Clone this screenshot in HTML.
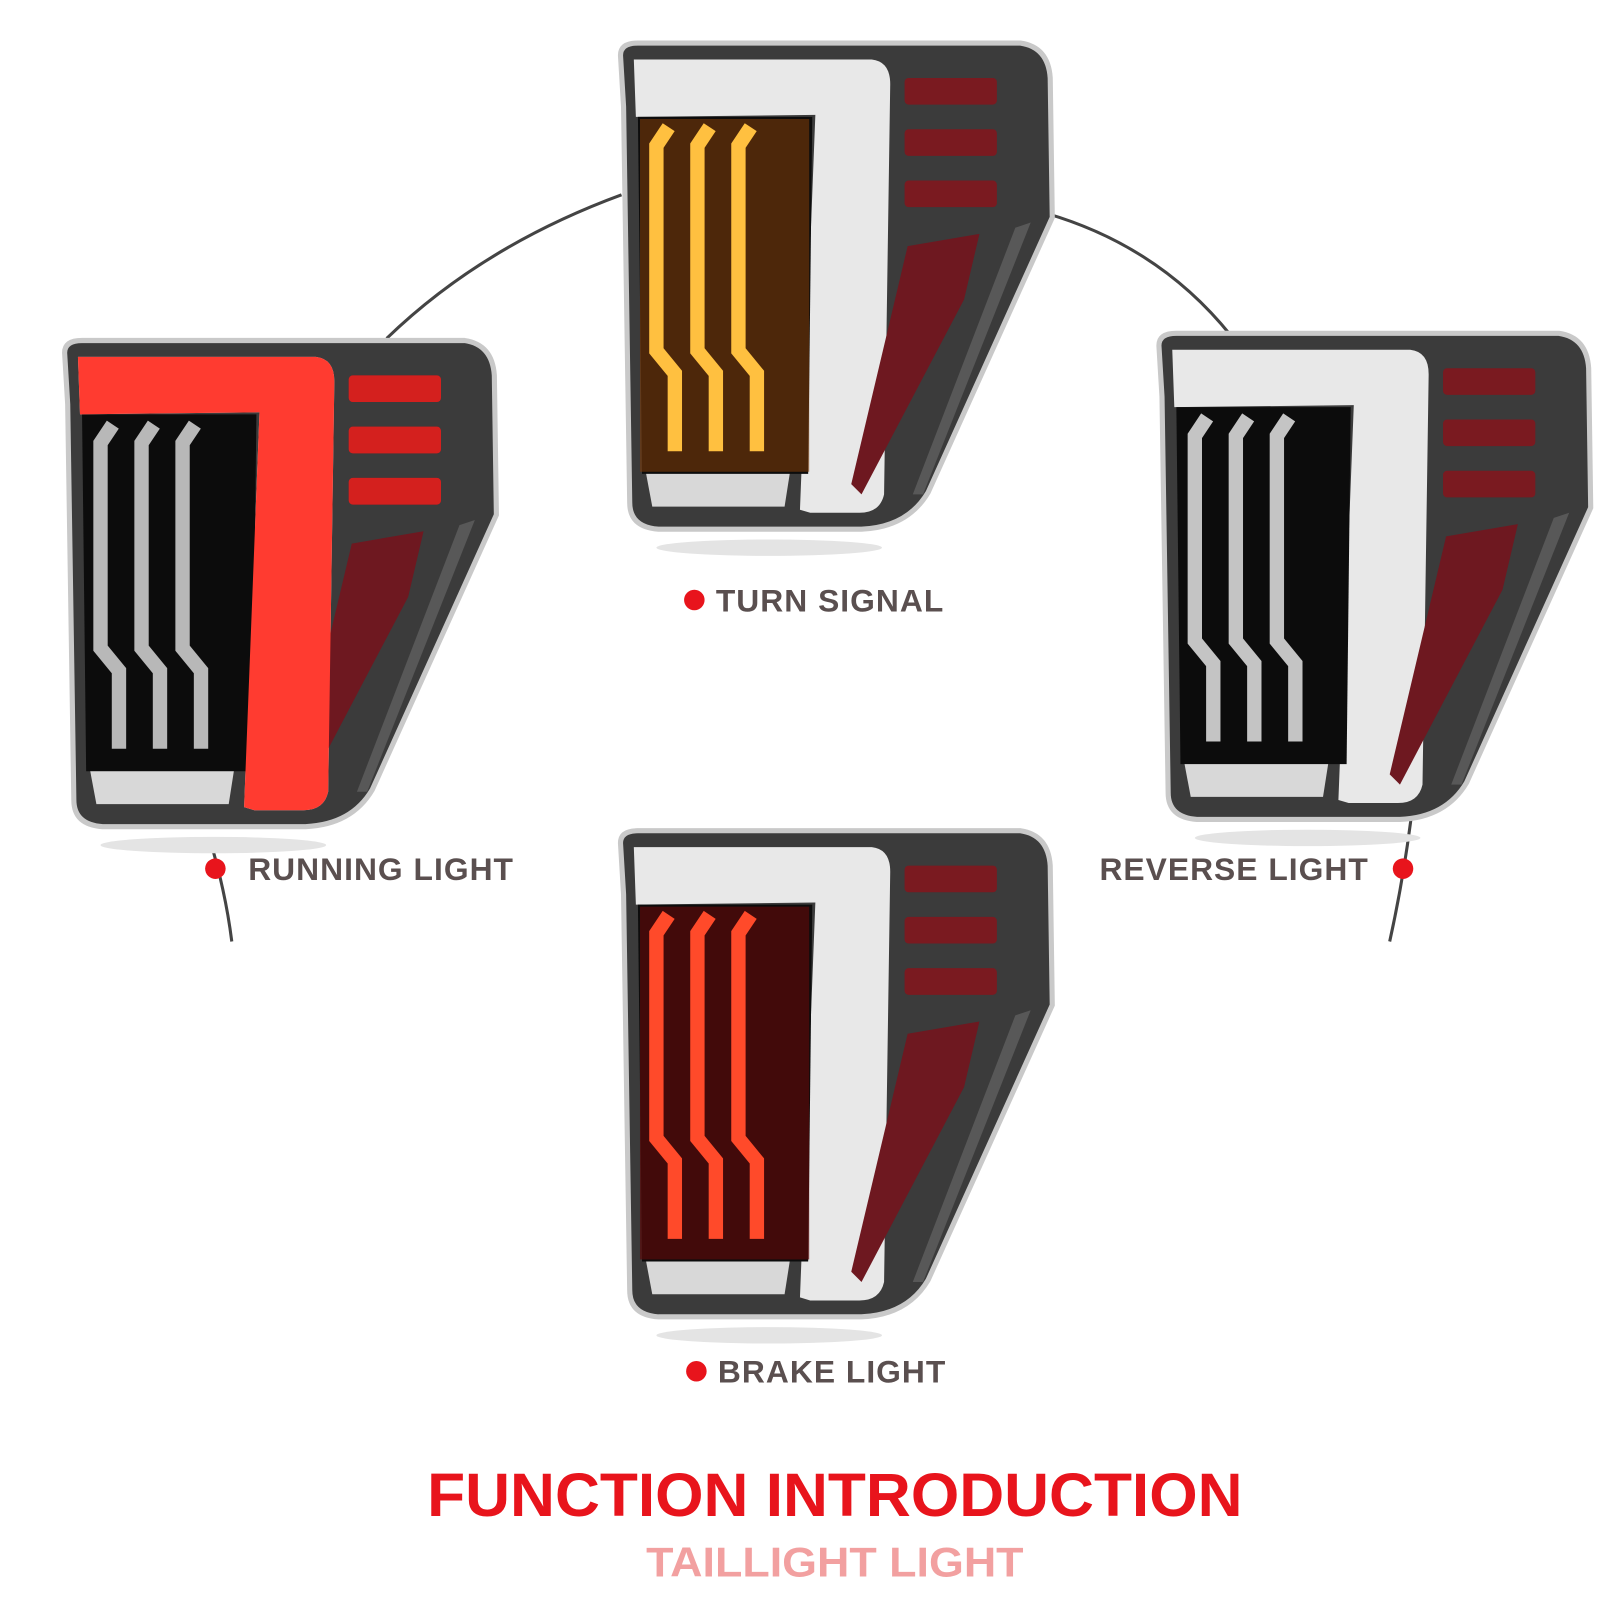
<!DOCTYPE html>
<html><head><meta charset="utf-8"><style>
html,body{margin:0;padding:0;background:#fff;width:1600px;height:1600px;overflow:hidden}
svg{position:absolute;left:0;top:0}
.lbl{font-family:"Liberation Sans",sans-serif;font-weight:bold;fill:#5a4f4f;font-size:31px;letter-spacing:1px}
</style></head><body>
<svg width="1600" height="1600" viewBox="0 0 1600 1600">
<defs>
<g id="housing">
  <ellipse cx="150" cy="492" rx="110" ry="8" fill="#e4e4e4"/>
  <path d="M5,12 Q5,0 22,0 L395,0 Q422,4 424,34 L426,170 L305,438 Q285,472 240,474 L42,474 Q14,472 14,448 L8,62 Z" fill="#3b3b3b" stroke="#c9c9c9" stroke-width="5"/>
  <path d="M18,16 L250,16 Q268,18 268,40 L262,440 Q258,458 238,458 L190,458 L180,455 L195,70 L20,72 Z" fill="#e8e8e8"/>
  <path d="M22,72 L192,72 L188,420 L26,420 Z" fill="#0c0c0c"/>
  <path d="M30,420 L170,420 L165,452 L36,452 Z" fill="#d8d8d8"/>
  <rect x="282" y="34" width="90" height="26" rx="4" fill="#7a1a20"/>
  <rect x="282" y="84" width="90" height="26" rx="4" fill="#7a1a20"/>
  <rect x="282" y="134" width="90" height="26" rx="4" fill="#7a1a20"/>
  <path d="M285,198 L355,186 L340,250 L240,440 L230,430 Z" fill="#6e1820"/>
  <path d="M390,180 L405,175 L300,440 L290,440 Z" fill="#9a9a9a" opacity="0.3"/>
</g>
<g id="bars">
  <polyline points="52,82 40,100 40,300 58,322 58,398" fill="none" stroke-width="14" stroke-linejoin="miter"/>
  <polyline points="92,82 80,100 80,300 98,322 98,398" fill="none" stroke-width="14"/>
  <polyline points="132,82 120,100 120,300 138,322 138,398" fill="none" stroke-width="14"/>
</g>
</defs>
<g transform="scale(1.0256)">
<path d="M377,330 Q470,240 606,190" fill="none" stroke="#444" stroke-width="3"/>
<path d="M1020,208 Q1130,240 1200,327" fill="none" stroke="#444" stroke-width="3"/>
<path d="M205,820 Q220,870 226,918" fill="none" stroke="#444" stroke-width="3"/>
<path d="M1378,780 Q1370,850 1355,918" fill="none" stroke="#444" stroke-width="3"/>

<g transform="translate(600,42)">
  <use href="#housing"/>
  <rect x="24" y="74" width="165" height="344" fill="#7a3a0a" opacity="0.6"/>
  <use href="#bars" stroke="#ffc040"/>
</g>
<g transform="translate(58,332)">
  <use href="#housing"/>
  <path d="M18,16 L250,16 Q268,18 268,40 L262,440 Q258,458 238,458 L190,458 L180,455 L195,70 L20,72 Z" fill="#ff3b30"/>
  <rect x="282" y="34" width="90" height="26" rx="4" fill="#d4201e"/>
  <rect x="282" y="84" width="90" height="26" rx="4" fill="#d4201e"/>
  <rect x="282" y="134" width="90" height="26" rx="4" fill="#d4201e"/>
  <use href="#bars" stroke="#b8b8b8"/>
</g>
<g transform="translate(1125,325)">
  <use href="#housing"/>
  <use href="#bars" stroke="#c4c4c4"/>
</g>
<g transform="translate(600,810)">
  <use href="#housing"/>
  <rect x="24" y="74" width="165" height="344" fill="#5a0a0a" opacity="0.7"/>
  <use href="#bars" stroke="#ff4a2a"/>
</g>

<circle cx="677" cy="585" r="10" fill="#e8141c"/>
<text x="698" y="596" class="lbl">TURN SIGNAL</text>
<circle cx="210" cy="847" r="10" fill="#e8141c"/>
<text x="242" y="858" class="lbl">RUNNING LIGHT</text>
<circle cx="1368" cy="847" r="10" fill="#e8141c"/>
<text x="1072" y="858" class="lbl">REVERSE LIGHT</text>
<circle cx="679" cy="1337" r="10" fill="#e8141c"/>
<text x="700" y="1348" class="lbl">BRAKE LIGHT</text>

<text x="814" y="1478" text-anchor="middle" font-family="Liberation Sans,sans-serif" font-weight="bold" font-size="60" fill="#e8141c" textLength="795" lengthAdjust="spacingAndGlyphs">FUNCTION INTRODUCTION</text>
<text x="814" y="1537" text-anchor="middle" font-family="Liberation Sans,sans-serif" font-weight="bold" font-size="41" fill="#f2a0a0" textLength="368" lengthAdjust="spacingAndGlyphs">TAILLIGHT LIGHT</text>
</g>
</svg>
</body></html>
